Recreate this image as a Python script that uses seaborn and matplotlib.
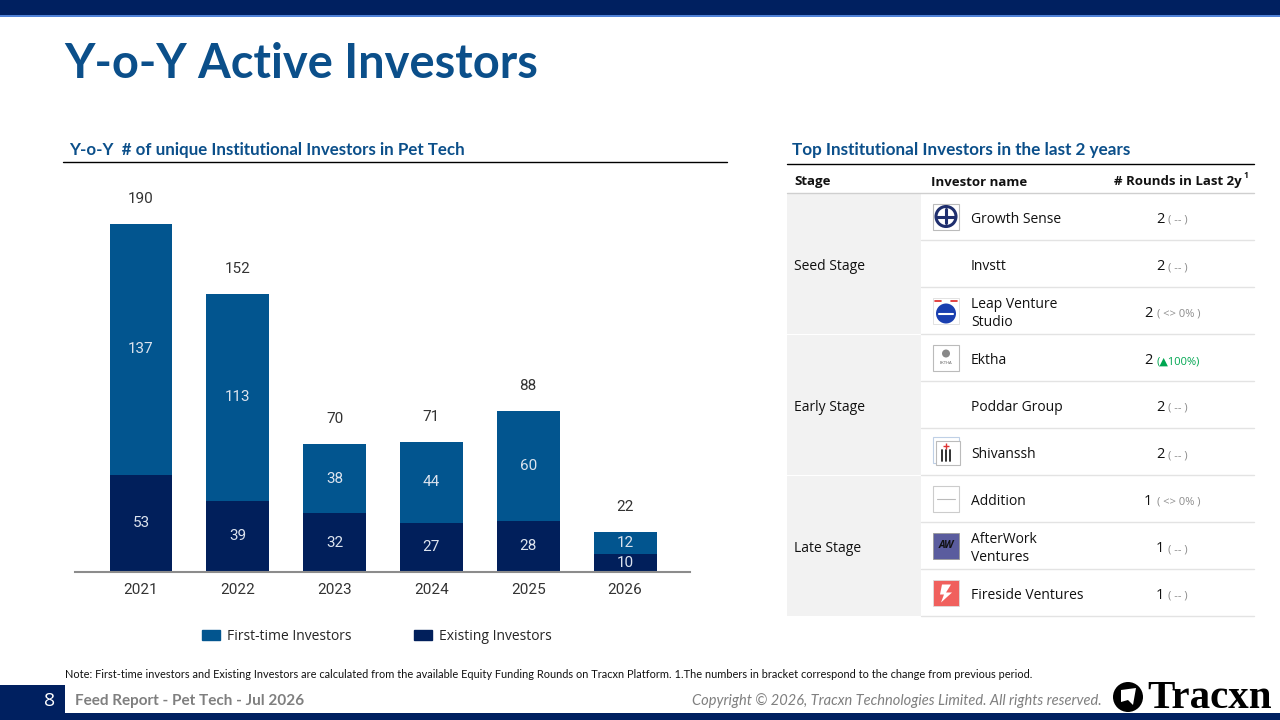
import matplotlib
matplotlib.use("Agg")
import matplotlib.pyplot as plt
import matplotlib.patches as mpatches
from matplotlib.offsetbox import TextArea, HPacker, AnnotationBbox
import seaborn as sns
import pandas as pd

# ---------------- data ----------------
years = ["2021", "2022", "2023", "2024", "2025", "2026"]
first_time = [137, 113, 38, 44, 60, 12]
existing = [53, 39, 32, 27, 28, 10]

stages = ["Seed Stage", "Early Stage", "Late Stage"]
investor_names = ["Growth Sense", "Invstt", "Leap Venture\nStudio", "Ektha", "Poddar Group",
                  "Shivanssh", "Addition", "AfterWork\nVentures", "Fireside Ventures"]
investor_rounds = [2, 2, 2, 2, 2, 2, 1, 1, 1]
round_changes = ["( -- )", "( -- )", "( <> 0% )", "(\u25B2100%)", "( -- )", "( -- )",
                 "( <> 0% )", "( -- )", "( -- )"]

# ---------------- style ----------------
sns.set_theme(style="white")
plt.rcParams["font.family"] = ["Open Sans", "DejaVu Sans"]

NAVY = "#002060"
TITLE_BLUE = "#0B4F8A"
C_FIRST = "#02558F"
C_EXIST = "#011F5B"
DY = 3  # visual centring offset for text (pixels)

fig = plt.figure(figsize=(12.8, 7.2), dpi=100)
fig.patch.set_facecolor("white")

# overlay axes in pixel coordinates
ov = fig.add_axes([0, 0, 1, 1], zorder=0)
ov.set_xlim(0, 1280)
ov.set_ylim(720, 0)
ov.axis("off")

# top bar
ov.add_patch(mpatches.Rectangle((0, 0), 1280, 15, color=NAVY, lw=0))
ov.add_patch(mpatches.Rectangle((0, 15), 1280, 2, color="#4F81D6", lw=0))

# title
ov.text(64, 64, "Y-o-Y Active Investors", fontsize=33.8, fontweight="bold",
        color=TITLE_BLUE, va="center", ha="left", family=["Lato", "DejaVu Sans"])

# section titles
ov.text(69, 147 + DY, "Y-o-Y  # of unique Institutional Investors in Pet Tech", fontsize=12.2,
        fontweight="bold", color=TITLE_BLUE, va="center", ha="left", family=["Lato", "DejaVu Sans"])
ov.plot([63, 727], [162, 162], color="black", lw=1)
ov.text(792, 147 + DY, "Top Institutional Investors in the last 2 years", fontsize=12.3,
        fontweight="bold", color=TITLE_BLUE, va="center", ha="left", family=["Lato", "DejaVu Sans"])
ov.plot([787, 1254], [164, 164], color="black", lw=1)

# ---------------- chart ----------------
df = pd.DataFrame({"year": years, "first": first_time, "existing": existing})
df["total"] = df["first"] + df["existing"]

ax = fig.add_axes([75 / 1280, 1 - 572 / 720, (690 - 75) / 1280, (572 - 180) / 720], zorder=2)
ax.patch.set_alpha(0)
sns.barplot(data=df, x="year", y="total", color=C_FIRST, saturation=1, width=0.65, ax=ax,
            edgecolor="none")
sns.barplot(data=df, x="year", y="existing", color=C_EXIST, saturation=1, width=0.65, ax=ax,
            edgecolor="none")
ax.set_xlim(-0.682, 5.671)
ax.set_ylim(0, 214)
ax.set_xlabel("")
ax.set_ylabel("")
ax.set_yticks([])
for s in ["top", "left", "right"]:
    ax.spines[s].set_visible(False)
ax.spines["bottom"].set_color("#8C8C8C")
ax.spines["bottom"].set_linewidth(1.5)
ax.tick_params(axis="x", length=0, pad=8, labelsize=11, labelcolor="#333333")
for lbl in ax.get_xticklabels():
    lbl.set_family(["Roboto", "DejaVu Sans"])

for i, row in df.iterrows():
    ax.annotate(str(row["total"]), (i, row["total"]), xytext=(0, 18), textcoords="offset points",
                ha="center", va="center", fontsize=11, color="#333333", family=["Roboto", "DejaVu Sans"])
    ax.text(i, row["existing"] + row["first"] / 2, str(row["first"]), ha="center", va="center",
            fontsize=11, color="#DCE3EE", family=["Roboto", "DejaVu Sans"])
    ax.text(i, row["existing"] / 2, str(row["existing"]), ha="center", va="center",
            fontsize=11, color="#DCE3EE", family=["Roboto", "DejaVu Sans"])

handles = [mpatches.Patch(color=C_FIRST, label="First-time Investors"),
           mpatches.Patch(color=C_EXIST, label="Existing Investors")]
fig.legend(handles=handles, loc="center", bbox_to_anchor=(377 / 1280, 1 - 636 / 720), ncol=2,
           frameon=False, fontsize=10, handlelength=1.3, handleheight=0.7, columnspacing=4.5,
           handletextpad=0.5)

# ---------------- table ----------------
hdr_y = 180 + DY - 1
ov.text(794, hdr_y, "Stage", fontsize=9.5, fontweight="bold", va="center", ha="left", color="#111111")
ov.text(931, hdr_y, "Investor name", fontsize=9.5, fontweight="bold", va="center", ha="left", color="#111111")
ov.text(1242, hdr_y, "# Rounds in Last 2y", fontsize=9.5, fontweight="bold", va="center", ha="right",
        color="#111111")
ov.text(1243, hdr_y - 7, "1", fontsize=6, fontweight="bold", va="center", ha="left", color="#111111")
ov.plot([787, 1254], [193, 193], color="#CFCFCF", lw=1)

top = 193
rh = 47
for g, st in enumerate(stages):
    y0 = top + g * 3 * rh
    ov.add_patch(mpatches.Rectangle((787, y0 + 0.5), 134, 3 * rh - 1, color="#F2F2F2", lw=0))
    ov.text(794, y0 + 1.5 * rh + DY, st, fontsize=10, va="center", ha="left", color="#111111")

for i in range(len(investor_names)):
    ov.plot([921, 1254], [top + (i + 1) * rh, top + (i + 1) * rh], color="#E3E3E3", lw=1)


def logo(i, cy):
    x0, s = 933, 26
    y0 = cy - s / 2
    if i == 0:
        ov.add_patch(mpatches.Rectangle((x0, y0), s, s, facecolor="white", edgecolor="#BBBBBB", lw=0.8))
        ov.add_patch(mpatches.Circle((x0 + 13, cy), 10, facecolor="none", edgecolor="#1F2F6E", lw=2.2))
        ov.plot([x0 + 13, x0 + 13], [cy - 8, cy + 6], color="#1F2F6E", lw=2.2)
        ov.plot([x0 + 4, x0 + 22], [cy, cy], color="#1F2F6E", lw=2.2)
    elif i == 2:
        ov.add_patch(mpatches.Rectangle((x0, y0), s, s, facecolor="white", edgecolor="#DDDDDD", lw=0.6))
        ov.add_patch(mpatches.Circle((x0 + 13, cy + 3), 10, facecolor="#1A3FB0", edgecolor="none"))
        ov.plot([x0 + 6, x0 + 20], [cy + 3, cy + 3], color="white", lw=1.5)
        ov.plot([x0 + 2, x0 + 8], [y0 + 3, y0 + 3], color="#D22", lw=1.2)
        ov.plot([x0 + 18, x0 + 24], [y0 + 3, y0 + 3], color="#D22", lw=1.2)
    elif i == 3:
        ov.add_patch(mpatches.Rectangle((x0, y0), s, s, facecolor="white", edgecolor="#BBBBBB", lw=0.8))
        ov.add_patch(mpatches.Circle((x0 + 13, cy - 4), 4, facecolor="#888888", edgecolor="none"))
        ov.text(x0 + 13, cy + 6, "EKTHA", fontsize=3, ha="center", va="center", color="#555555")
    elif i == 5:
        ov.add_patch(mpatches.Rectangle((x0, y0 - 2), s, s, facecolor="white", edgecolor="#BFD0E6", lw=0.8))
        ov.add_patch(mpatches.Rectangle((x0 + 3, y0 + 2), s - 2, s - 2, facecolor="white", edgecolor="#BBBBBB", lw=0.8))
        for dx in (9, 13, 17):
            ov.plot([x0 + dx, x0 + dx], [cy - 2, cy + 9], color="#222222", lw=1.3)
        ov.plot([x0 + 13], [cy - 6], marker="+", color="#D33", ms=4)
    elif i == 6:
        ov.add_patch(mpatches.Rectangle((x0, y0), s, s, facecolor="white", edgecolor="#CCCCCC", lw=0.8))
        ov.plot([x0 + 4, x0 + 22], [cy, cy], color="#BBBBBB", lw=0.8)
    elif i == 7:
        ov.add_patch(mpatches.Rectangle((x0, y0), s, s, facecolor="#5A5C9E", edgecolor="#999999", lw=0.6))
        ov.text(x0 + 13, cy, "AW", fontsize=7.5, fontweight="bold", ha="center", va="center",
                color="#111111", style="italic")
    elif i == 8:
        ov.add_patch(mpatches.Rectangle((x0, y0), s, s, facecolor="#F0605D", edgecolor="#DDDDDD", lw=0.6))
        ov.add_patch(mpatches.Polygon([(x0 + 9, y0 + 5), (x0 + 18, y0 + 5), (x0 + 13, cy),
                                       (x0 + 19, cy), (x0 + 8, y0 + 23), (x0 + 11, cy + 2),
                                       (x0 + 7, cy + 2)], closed=True, facecolor="white", edgecolor="none"))


for i, (name, r, ch) in enumerate(zip(investor_names, investor_rounds, round_changes)):
    cy = top + i * rh + rh / 2
    logo(i, cy)
    ov.text(971, cy + DY, name, fontsize=10, va="center", ha="left", color="#111111", linespacing=1.2)
    col = "#00A651" if "\u25B2" in ch else "#8C8C8C"
    t1 = TextArea(str(r), textprops=dict(size=10.5, color="#111111"))
    t2 = TextArea(ch, textprops=dict(size=8, color=col, family=["Open Sans", "DejaVu Sans"]))
    box = HPacker(children=[t1, t2], align="baseline", pad=0, sep=3)
    ab = AnnotationBbox(box, (1172, cy + 3), xycoords="data", frameon=False, box_alignment=(0.5, 0.5))
    ov.add_artist(ab)

# ---------------- footer ----------------
ov.text(65, 675, "Note: First-time investors and Existing Investors are calculated from the available Equity "
                 "Funding Rounds on Tracxn Platform. 1.The numbers in bracket correspond to the change from "
                 "previous period.", fontsize=7.9, va="center", ha="left", color="#111111",
        family=["Lato", "DejaVu Sans"])
ov.add_patch(mpatches.Rectangle((0, 713), 1280, 7, color=NAVY, lw=0))
ov.add_patch(mpatches.Rectangle((0, 685), 65, 35, color=NAVY, lw=0))
ov.text(50, 701, "8", fontsize=14, color="white", va="center", ha="center")
ov.text(75, 701, "Feed Report - Pet Tech - Jul 2026", fontsize=11, fontweight="bold", color="#7F7F7F",
        va="center", ha="left", family=["Lato", "DejaVu Sans"])
ov.text(1102, 701, "Copyright \u00A9 2026, Tracxn Technologies Limited. All rights reserved.", fontsize=10.5,
        style="italic", color="#7F7F7F", va="center", ha="right", family=["Lato", "DejaVu Sans"])
ov.add_patch(mpatches.Circle((1128, 697), 15, facecolor="black", edgecolor="none"))
ov.add_patch(mpatches.Polygon([(1121, 690), (1136, 688), (1133, 705), (1128, 700), (1121, 702)],
                              closed=True, facecolor="white", edgecolor="none"))
ov.text(1147, 698, "Tracxn", fontsize=29.5, fontweight="bold", color="black", va="center", ha="left",
        family=["Liberation Serif", "DejaVu Serif"])

fig.savefig("out.png", dpi=100, facecolor="white")
